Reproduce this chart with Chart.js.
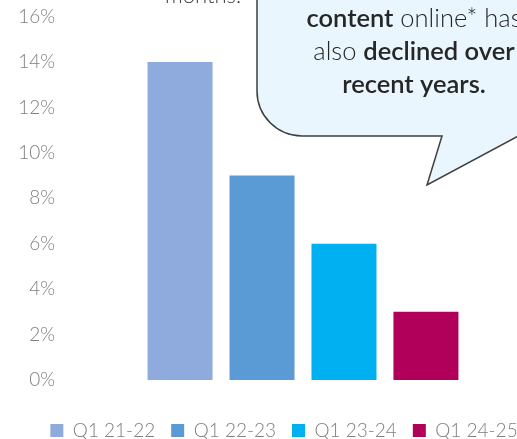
<!DOCTYPE html>
<html lang="en">
<head>
    <meta charset="UTF-8">
    <meta name="viewport" content="width=device-width, initial-scale=1.0">
    <title>Q1 share</title>
    <script src="https://cdn.jsdelivr.net/npm/chart.js"></script>
    <style>
        html, body { margin: 0; padding: 0; background: #fff; overflow: hidden; }
        #wrap { width: 517px; height: 439px; overflow: hidden; }
        #box { width: 568px; height: 439px; }
    </style>
</head>
<body>
    <div id="wrap"><div id="box"><canvas id="shareChart"></canvas></div></div>
    <script>
        const periods = ['Q1 21-22', 'Q1 22-23', 'Q1 23-24', 'Q1 24-25'];
        const shares = [14, 9, 6, 3];
        const colours = ['#8FAADC', '#5B9BD5', '#00B0F0', '#B0005A'];
        const yMax = 16;
        const yStep = 2;

        const FONT = 'Lato, "Open Sans", sans-serif';

        // speech bubble + cut-off note text from the original slide
        const callout = {
            id: 'callout',
            afterDraw(chart) {
                const ctx = chart.ctx;
                ctx.save();
                ctx.font = '300 22px ' + FONT;
                ctx.fillStyle = '#404040';
                ctx.textAlign = 'center';
                ctx.textBaseline = 'alphabetic';
                ctx.fillText('months.', 203, 3);

                ctx.beginPath();
                ctx.moveTo(257, -10);
                ctx.lineTo(257, 91);
                ctx.arcTo(257, 136, 302, 136, 45);
                ctx.lineTo(442, 136);
                ctx.lineTo(427, 185);
                ctx.lineTo(580, 103);
                ctx.lineTo(580, -10);
                ctx.closePath();
                ctx.fillStyle = '#EAF6FD';
                ctx.fill();
                ctx.lineWidth = 1.5;
                ctx.strokeStyle = '#3F3F3F';
                ctx.stroke();

                const lines = [
                    { y: 27, parts: [['content', true], [' online* has', false]] },
                    { y: 60, parts: [['also ', false], ['declined over', true]] },
                    { y: 93, parts: [['recent years.', true]] }
                ];
                ctx.textAlign = 'left';
                ctx.fillStyle = '#262626';
                const bold = '600 25.5px ' + FONT;
                const light = '300 25.5px ' + FONT;
                lines.forEach(line => {
                    let total = 0;
                    line.parts.forEach(p => { ctx.font = p[1] ? bold : light; total += ctx.measureText(p[0]).width; });
                    let x = 414 - total / 2;
                    line.parts.forEach(p => {
                        ctx.font = p[1] ? bold : light;
                        ctx.fillText(p[0], x, line.y);
                        x += ctx.measureText(p[0]).width;
                    });
                });
                ctx.restore();
            }
        };

        const ctx = document.getElementById('shareChart').getContext('2d');
        new Chart(ctx, {
            type: 'bar',
            data: {
                labels: [''],
                datasets: periods.map((p, i) => ({
                    label: p,
                    data: [shares[i]],
                    backgroundColor: colours[i],
                    borderWidth: 0,
                    categoryPercentage: 0.766,
                    barPercentage: 0.793
                }))
            },
            options: {
                responsive: true,
                maintainAspectRatio: false,
                animation: false,
                layout: { padding: { top: 16.5, left: 0, right: 0, bottom: -11 } },
                plugins: {
                    tooltip: { enabled: false },
                    legend: {
                        position: 'bottom',
                        labels: {
                            boxWidth: 13,
                            boxHeight: 13,
                            padding: 16,
                            color: '#7F7F7F',
                            font: { family: FONT, size: 19, weight: '300' }
                        }
                    }
                },
                scales: {
                    x: {
                        display: true,
                        border: { display: false },
                        grid: { display: false, drawTicks: false },
                        ticks: { display: false },
                        afterFit(scale) { scale.height = 25; }
                    },
                    y: {
                        min: 0,
                        max: yMax,
                        border: { display: false },
                        grid: { display: false, drawTicks: false },
                        afterFit(scale) {
                            scale.width = 89;
                            scale.paddingTop = 0;
                            scale.paddingBottom = 0;
                        },
                        ticks: {
                            stepSize: yStep,
                            padding: 34,
                            color: '#7F7F7F',
                            font: { family: FONT, size: 19, weight: '300' },
                            callback: v => v + '%'
                        }
                    },
                    spacer: {
                        position: 'right',
                        display: true,
                        border: { display: false },
                        grid: { display: false, drawTicks: false },
                        ticks: { display: false },
                        afterFit(scale) { scale.width = 51; }
                    }
                }
            },
            plugins: [callout]
        });
    </script>
</body>
</html>
